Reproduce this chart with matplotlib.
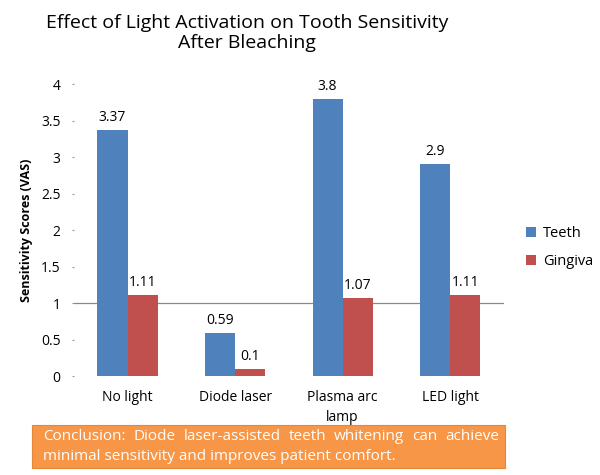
import matplotlib.pyplot as plt
import matplotlib.patches as mpatches
import numpy as np

plt.rcParams['font.family'] = ['Open Sans', 'DejaVu Sans']

# Data
categories = ['No light', 'Diode laser', 'Plasma arc\nlamp', 'LED light']
teeth = [3.37, 0.59, 3.8, 2.9]
gingiva = [1.11, 0.1, 1.07, 1.11]
series_names = ['Teeth', 'Gingiva']
colors = ['#4F81BD', '#C0504D']
conclusion_line1 = 'Conclusion: Diode laser-assisted teeth whitening can achieve'
conclusion_line2 = 'minimal sensitivity and improves patient comfort.'

fig = plt.figure(figsize=(6, 4.75), dpi=100)
ax = fig.add_axes([0.123, 0.208, 0.717, 0.615])

x = np.arange(len(categories))
width = 0.28
bars1 = ax.bar(x - width/2, teeth, width, color=colors[0], label=series_names[0])
bars2 = ax.bar(x + width/2, gingiva, width, color=colors[1], label=series_names[1])

# value labels
for rects in (bars1, bars2):
    for rect in rects:
        h = rect.get_height()
        ax.text(rect.get_x() + rect.get_width()/2, h + 0.07, f'{h:g}',
                ha='center', va='bottom', fontsize=10)

ax.axhline(1, color='#888888', linewidth=0.9, zorder=0)

ax.set_xlim(-0.5, len(categories) - 0.5)
ax.set_ylim(0, 4)
ax.set_yticks(np.arange(0, 4.01, 0.5))
ax.set_yticklabels(['0', '0.5', '1', '1.5', '2', '2.5', '3', '3.5', '4'])
ax.set_xticks(x)
ax.set_xticklabels(categories, fontsize=10, linespacing=1.45)
ax.tick_params(axis='y', labelsize=10, length=1.5, color='#999999', pad=8)
ax.tick_params(axis='x', length=0, pad=10)
for s in ax.spines.values():
    s.set_visible(False)

ax.set_ylabel('Sensitivity Scores (VAS)', fontsize=9, fontweight='bold', labelpad=6)

ax.legend(loc='center left', bbox_to_anchor=(1.02, 0.44), frameon=False,
          fontsize=10.5, handlelength=0.7, handleheight=0.7, labelspacing=0.9,
          handletextpad=0.5)

fig.text(0.412, 0.97, 'Effect of Light Activation on Tooth Sensitivity\nAfter Bleaching',
         ha='center', va='top', fontsize=14, linespacing=1.1)

# Conclusion box
box = mpatches.Rectangle((32/600, 1 - 468/475), 473/600, 43/475, transform=fig.transFigure,
                         facecolor='#F79646', edgecolor='#E3873B', linewidth=0.8)
fig.add_artist(box)

# justify first line
fig.canvas.draw()
renderer = fig.canvas.get_renderer()
words = conclusion_line1.split(' ')
left, right = 43/600, 499/600
tmp = [fig.text(0, 0, w, fontsize=11, color='white') for w in words]
widths = [t.get_window_extent(renderer).width / 600 for t in tmp]
gap = (right - left - sum(widths)) / (len(words) - 1)
pos = left
for t, w in zip(tmp, widths):
    t.set_position((pos, 1 - 437/475))
    t.set_va('center')
    pos += w + gap
fig.text(left, 1 - 456/475, conclusion_line2, fontsize=11, color='white', va='center')

plt.savefig('out.png', dpi=100)
